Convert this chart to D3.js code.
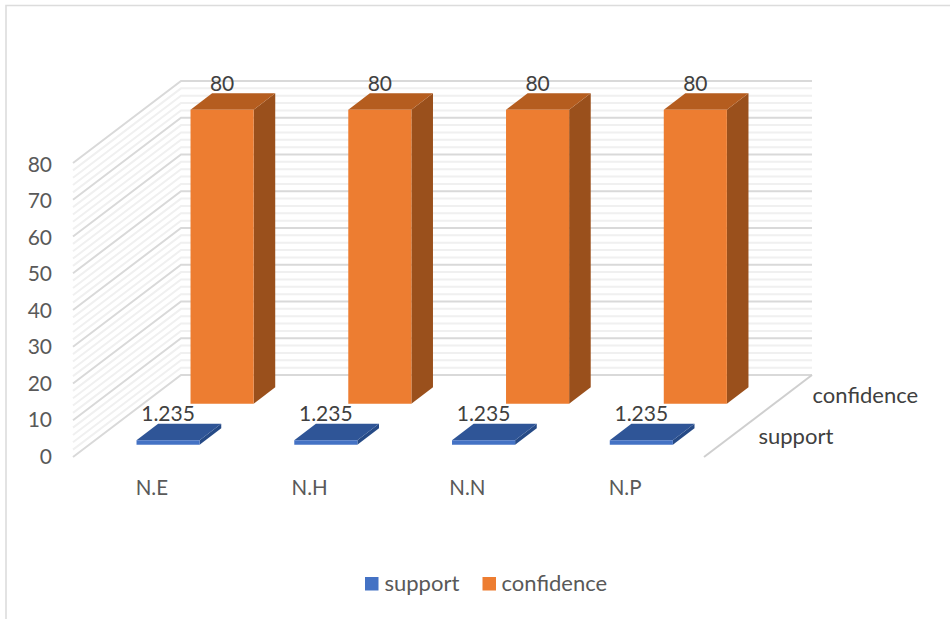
<!DOCTYPE html>
<html>
<head>
<meta charset="utf-8">
<script src="https://cdn.jsdelivr.net/npm/d3@7/dist/d3.min.js"></script>
<style>
  html, body { margin: 0; padding: 0; background: #fff; }
  svg { display: block; }
  text { font-family: Lato, "Open Sans", sans-serif; }
</style>
</head>
<body>
<svg id="chart" width="950" height="619"></svg>
<script>
// Chart content
const categories = ["N.E", "N.H", "N.N", "N.P"];
const seriesNames = ["support", "confidence"];
const supportValues = [1.235, 1.235, 1.235, 1.235];
const confidenceValues = [80, 80, 80, 80];
const valueTicks = [0, 10, 20, 30, 40, 50, 60, 70, 80];
const minorStep = 2;

const seriesValues = { support: supportValues, confidence: confidenceValues };
const seriesColors = {
  support: { front: "#4472C4", top: "#2F5597", side: "#264A86" },
  confidence: { front: "#ED7D31", top: "#B55D1F", side: "#9A501C" }
};
const fontStack = 'Lato, "Open Sans", sans-serif';

const svg = d3.select("#chart");

// Oblique box: the floor's front-left corner and the vector running to the back wall
const origin = { x: 73, y: 457 };
const depthVec = { x: 108, y: -82 };
const wallWidth = 631;
const wallHeight = 294;

const xScale = d3.scaleBand().domain(categories).range([0, wallWidth])
  .paddingInner(0.6).paddingOuter(0.3);
const zScale = d3.scaleBand().domain(seriesNames).range([0, 1])
  .paddingInner(0.6).paddingOuter(0.3);
const yScale = d3.scaleLinear().domain([0, 80]).range([0, wallHeight]);

// Projects (across, value, depth) onto the page
const project = (x, v, z) => [
  origin.x + x + z * depthVec.x,
  origin.y - yScale(v) + z * depthVec.y
];
const poly = pts => "M" + pts.map(p => p.join(",")).join("L") + "Z";

// Frame
svg.append("path")
  .attr("d", "M6,619V5.5H950")
  .attr("fill", "none").attr("stroke", "#dcdcdc").attr("stroke-width", 1.6);

// Gridlines on the side wall and back wall
const gridValues = d3.range(0, 80 + minorStep, minorStep);
const grid = svg.append("g").attr("fill", "none");
gridValues.filter(v => v % 10 !== 0).concat(valueTicks).forEach(v => {
  const major = v % 10 === 0;
  grid.append("path")
    .attr("d", d3.line()([project(0, v, 0), project(0, v, 1), project(wallWidth, v, 1)]))
    .attr("stroke", major ? "#d9d9d9" : "#f0f0f0")
    .attr("stroke-width", 2);
});

// Right edge of the floor
svg.append("path")
  .attr("d", d3.line()([project(wallWidth, 0, 0), project(wallWidth, 0, 1)]))
  .attr("stroke", "#cfcfcf").attr("stroke-width", 2).attr("fill", "none");

// Columns, back row first so the nearer row overlaps it
[...seriesNames].reverse().forEach(name => {
  const colors = seriesColors[name];
  const z0 = zScale(name), z1 = z0 + zScale.bandwidth();
  const g = svg.append("g").attr("class", "series-" + name);
  categories.forEach((cat, i) => {
    const v = seriesValues[name][i];
    const x0 = xScale(cat), x1 = x0 + xScale.bandwidth();
    g.append("path").attr("fill", colors.side)
      .attr("d", poly([project(x1, 0, z0), project(x1, 0, z1), project(x1, v, z1), project(x1, v, z0)]));
    g.append("path").attr("fill", colors.top)
      .attr("d", poly([project(x0, v, z0), project(x1, v, z0), project(x1, v, z1), project(x0, v, z1)]));
    g.append("path").attr("fill", colors.front)
      .attr("d", poly([project(x0, 0, z0), project(x1, 0, z0), project(x1, v, z0), project(x0, v, z0)]));
    // Value label: centred on the column's face, just above its back top edge
    const face = project((x0 + x1) / 2, v, z0);
    const back = project(x0, v, z1);
    g.append("text")
      .attr("x", face[0]).attr("y", back[1] - 2.5)
      .attr("text-anchor", "middle")
      .attr("font-size", 21).attr("fill", "#404040")
      .text(v);
  });
});

// Value axis, set well to the left of the side wall's front edge
const yAxisScale = d3.scaleLinear().domain([0, 80]).range([456.3, 164.3]);
const yAxis = svg.append("g")
  .attr("transform", "translate(52,0)")
  .call(d3.axisLeft(yAxisScale).tickValues(valueTicks).tickSize(0).tickPadding(0));
yAxis.select(".domain").remove();
yAxis.selectAll("text").attr("font-size", 21).attr("fill", "#595959")
  .style("font-family", fontStack);

// Category axis below the floor
const xAxis = svg.append("g")
  .attr("transform", `translate(${origin.x},${origin.y + 23})`)
  .call(d3.axisBottom(xScale).tickSize(0).tickPadding(0));
xAxis.select(".domain").remove();
xAxis.selectAll("text").attr("font-size", 20.5).attr("fill", "#595959")
  .style("font-family", fontStack);

// Series names along the floor's right edge
const depthLabels = { support: [758.5, 444], confidence: [812.5, 402.5] };
seriesNames.forEach(name => {
  svg.append("text")
    .attr("x", depthLabels[name][0]).attr("y", depthLabels[name][1])
    .attr("font-size", 22).attr("fill", "#404040")
    .text(name);
});

// Legend
const legendItems = [
  { name: "support", box: 365, label: 384.5 },
  { name: "confidence", box: 482.5, label: 501.5 }
];
legendItems.forEach(d => {
  svg.append("rect").attr("x", d.box).attr("y", 577)
    .attr("width", 13.5).attr("height", 13.5)
    .attr("fill", seriesColors[d.name].front);
  svg.append("text").attr("x", d.label).attr("y", 590.5)
    .attr("font-size", 22).attr("fill", "#595959")
    .text(d.name);
});
</script>
</body>
</html>
